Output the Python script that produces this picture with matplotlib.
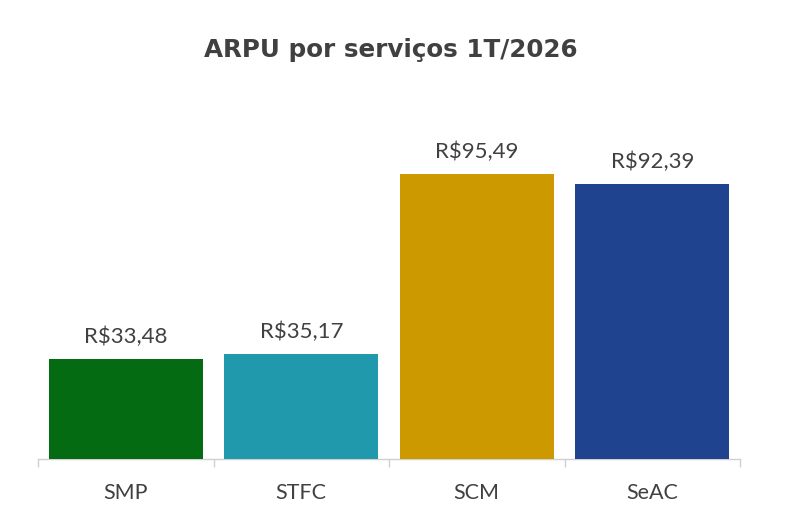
import matplotlib.pyplot as plt
import numpy as np

# data
services = ['SMP', 'STFC', 'SCM', 'SeAC']
arpu = [33.48, 35.17, 95.49, 92.39]
colors = ['#046b12', '#2199ac', '#cc9900', '#1f438e']

text_color = '#404040'
axis_color = '#d0d0d0'

fig = plt.figure(figsize=(8, 5.3), dpi=100, facecolor='white')
ax = fig.add_axes([0.0475, 0.134, 0.8775, 0.675])

x = np.arange(len(services))
ax.bar(x, arpu, width=0.88, color=colors, edgecolor='none', zorder=3)

for xi, v in zip(x, arpu):
    label = 'R$' + f'{v:.2f}'.replace('.', ',')
    ax.text(xi, v + 4, label, ha='center', va='bottom', fontsize=16,
            color=text_color, family='Lato')

ax.set_xlim(-0.5, len(services) - 0.5)
ax.set_ylim(0, 120)
ax.set_xticks(x)
ax.set_xticklabels(services, fontsize=15.5, color=text_color, family='Lato')
ax.set_xticks(np.arange(len(services) + 1) - 0.5, minor=True)
ax.tick_params(axis='x', which='major', length=0, pad=17)
ax.tick_params(axis='x', which='minor', length=6, color=axis_color, width=1)
ax.set_yticks([])

for s in ['top', 'right', 'left']:
    ax.spines[s].set_visible(False)
ax.spines['bottom'].set_color(axis_color)
ax.spines['bottom'].set_linewidth(1)

fig.text(0.489, 0.905, 'ARPU por serviços 1T/2026', ha='center', va='center',
         fontsize=17.7, fontweight='bold', color=text_color, family='DejaVu Sans')

fig.savefig('out.png', dpi=100, facecolor='white')
